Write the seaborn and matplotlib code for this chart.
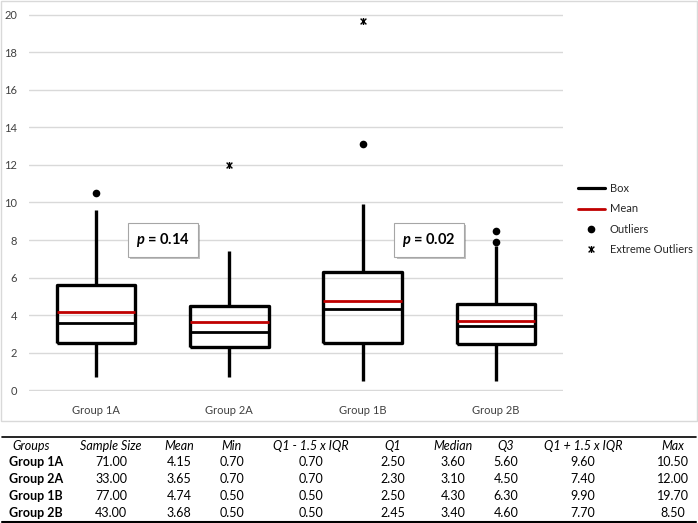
#!/usr/bin/env python3
"""Box plots of four groups with summary table (Excel-style)."""

import matplotlib
matplotlib.use('agg')
import matplotlib.pyplot as plt
from matplotlib.lines import Line2D
from matplotlib.patches import Rectangle
from matplotlib.path import Path
import matplotlib.patheffects as pe

import seaborn as sns

groups = ['Group 1A', 'Group 2A', 'Group 1B', 'Group 2B']
sample_size = [71.00, 33.00, 77.00, 43.00]
means = [4.15, 3.65, 4.74, 3.68]
mins = [0.70, 0.70, 0.50, 0.50]
lower_fence = [0.70, 0.70, 0.50, 0.50]
q1 = [2.50, 2.30, 2.50, 2.45]
medians = [3.60, 3.10, 4.30, 3.40]
q3 = [5.60, 4.50, 6.30, 4.60]
upper_fence = [9.60, 7.40, 9.90, 7.70]
maxs = [10.50, 12.00, 19.70, 8.50]

outlier_group = ['Group 1A', 'Group 1B', 'Group 2B', 'Group 2B']
outlier_value = [10.5, 13.1, 7.9, 8.5]
extreme_group = ['Group 2A', 'Group 1B']
extreme_value = [12.0, 19.7]

p_labels = ['0.14', '0.02']
p_xpos = [0.5, 2.5]

W, H = 698, 523

# Excel "star" marker: x with a vertical bar
STAR = Path([(-1, -1), (1, 1), (-1, 1), (1, -1), (0, -1.2), (0, 1.2)],
            [Path.MOVETO, Path.LINETO, Path.MOVETO, Path.LINETO, Path.MOVETO, Path.LINETO])


def fx(px):
    return px / W


def fy(py):
    return 1 - py / H


def main():
    sns.set_theme(style='whitegrid')
    plt.rcParams['font.family'] = ['Lato', 'DejaVu Sans']
    plt.rcParams['mathtext.fontset'] = 'custom'
    plt.rcParams['mathtext.bfit'] = 'Lato:bold:italic'

    fig = plt.figure(figsize=(W / 100, H / 100), dpi=100)
    ax = fig.add_axes([fx(29.4), fy(391), fx(562.6) - fx(29.4), fy(14) - fy(391)])

    stats = []
    for i, grp in enumerate(groups):
        stats.append(dict(label=grp, whislo=lower_fence[i], q1=q1[i], med=medians[i],
                          q3=q3[i], whishi=upper_fence[i], mean=means[i], fliers=[]))
    line = dict(color='black', linewidth=2.4, solid_capstyle='butt')
    ax.bxp(stats, positions=range(len(groups)), widths=0.59, showmeans=True, meanline=True,
           showcaps=False, showfliers=False, boxprops=line, whiskerprops=line,
           medianprops=dict(color='black', linewidth=2.0),
           meanprops=dict(color='#c00000', linestyle='-', linewidth=2.0))

    sns.stripplot(x=outlier_group, y=outlier_value, order=groups, jitter=False,
                  color='black', size=5.5, ax=ax, zorder=5)
    sns.stripplot(x=extreme_group, y=extreme_value, order=groups, jitter=False,
                  marker=STAR, color='black', edgecolor='black', linewidth=1.0,
                  size=5, ax=ax, zorder=5)

    ax.set_xlim(-0.5, len(groups) - 0.5)
    ax.set_ylim(-0.05, 20.05)
    ax.set_yticks(range(0, 21, 2))
    ax.set_xticks(range(len(groups)), groups)
    ax.set_xlabel('')
    ax.set_ylabel('')
    ax.grid(axis='x', visible=False)
    ax.grid(axis='y', color='#d9d9d9', linewidth=1.0)
    for spine in ax.spines.values():
        spine.set_visible(False)
    ax.tick_params(axis='both', length=0, labelcolor='#404040', labelsize=8)
    ax.tick_params(axis='y', pad=9)
    ax.tick_params(axis='x', pad=10)

    for xpos, ptxt in zip(p_xpos, p_labels):
        txt = ax.text(xpos, 8.0, r'$\mathbfit{p}$ = ' + ptxt, ha='center', va='center',
                      fontsize=10.5, fontweight='bold', color='black', zorder=6,
                      bbox=dict(boxstyle='square,pad=0.55', facecolor='white',
                                edgecolor='#a6a6a6', linewidth=0.8))
        txt.get_bbox_patch().set_path_effects(
            [pe.SimplePatchShadow(offset=(1.5, -1.5), alpha=0.35), pe.Normal()])

    handles = [Line2D([], [], color='black', linewidth=2.3),
               Line2D([], [], color='#c00000', linewidth=2.0),
               Line2D([], [], color='black', marker='o', linestyle='none', markersize=4.5),
               Line2D([], [], color='black', marker=STAR, linestyle='none', markersize=5,
                      markeredgewidth=1.0)]
    fig.legend(handles, ['Box', 'Mean', 'Outliers', 'Extreme Outliers'], loc='upper left',
               bbox_to_anchor=(fx(578), fy(183)), frameon=False, fontsize=8,
               handlelength=2.4, handletextpad=0.45, labelspacing=0.85,
               borderpad=0, borderaxespad=0)

    # chart border
    fig.add_artist(Rectangle((fx(1), fy(421)), fx(696), 420 / H, transform=fig.transFigure,
                             fill=False, edgecolor='#d9d9d9', linewidth=1.0))

    # summary table
    headers = ['Groups', 'Sample Size', 'Mean', 'Min', 'Q1 - 1.5 x IQR', 'Q1', 'Median',
               'Q3', 'Q1 + 1.5 x IQR', 'Max']
    col_x = [12, 111, 179, 232, 311, 393, 453, 506, 583, 673]
    row_y = [462, 479, 496, 513]
    columns = [sample_size, means, mins, lower_fence, q1, medians, q3, upper_fence, maxs]
    fig.add_artist(Line2D([fx(2), fx(696)], [fy(437), fy(437)], color='black', linewidth=1.2))
    fig.add_artist(Line2D([fx(2), fx(696)], [fy(521.5), fy(521.5)], color='black', linewidth=1.5))
    for j, head in enumerate(headers):
        fig.text(fx(col_x[j]), fy(446), head, ha='left' if j == 0 else 'center', va='center',
                 fontsize=9, fontstyle='italic', color='black')
    for i, grp in enumerate(groups):
        fig.text(fx(9), fy(row_y[i]), grp, ha='left', va='center', fontsize=9,
                 fontweight='bold', color='black')
        for j, col in enumerate(columns):
            fig.text(fx(col_x[j + 1]), fy(row_y[i]), '{:.2f}'.format(col[i]), ha='center',
                     va='center', fontsize=9, color='black')

    fig.savefig('out.png', dpi=100)


if __name__ == '__main__':
    main()
